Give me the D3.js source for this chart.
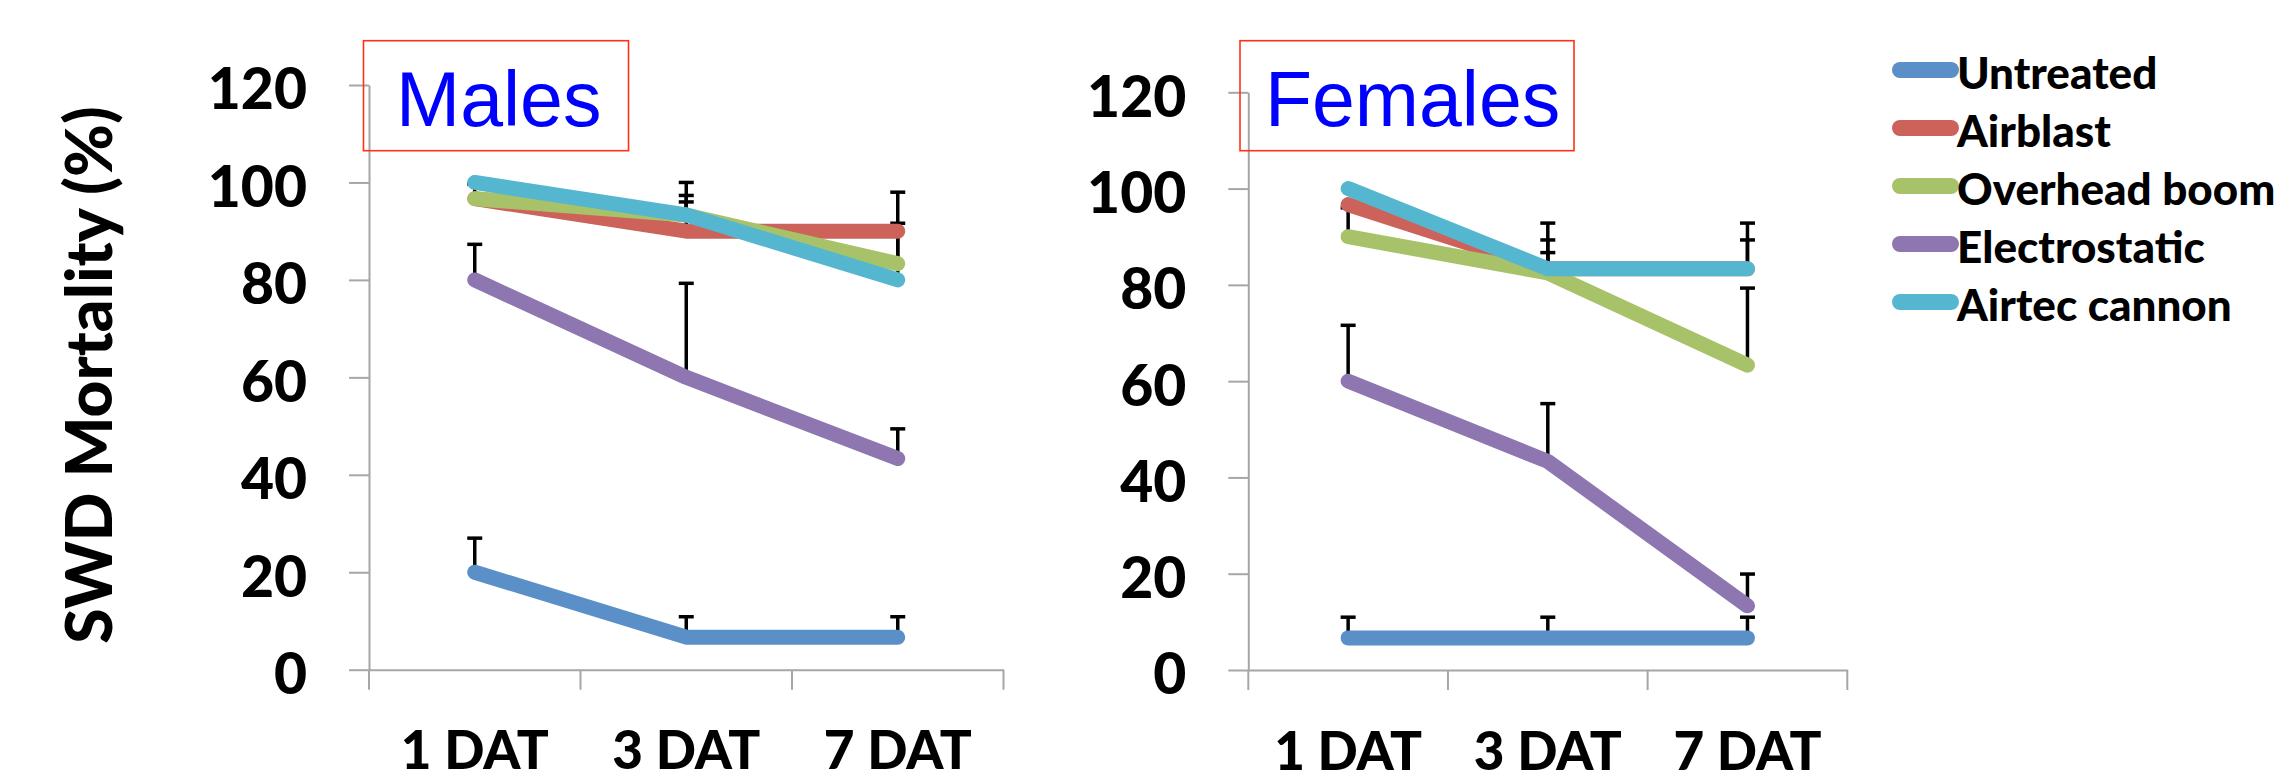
<!DOCTYPE html>
<html><head><meta charset="utf-8">
<script src="https://cdn.jsdelivr.net/npm/d3@7"></script>
<style>body{margin:0;background:#fff}svg{display:block}</style>
</head><body>
<script>
const categories = ["1 DAT", "3 DAT", "7 DAT"];
const seriesNames = ["Untreated", "Airblast", "Overhead boom", "Electrostatic", "Airtec cannon"];
const seriesColors = ["#5b8fc7", "#cc6259", "#a8c26a", "#8e76b0", "#55b7cf"];
const yTicks = [0, 20, 40, 60, 80, 100, 120];

const malesValues = [
  [20, 6.67, 6.67],
  [96.67, 90, 90],
  [96.67, 93.33, 83.33],
  [80, 60, 43.33],
  [100, 93.33, 80]
];
const malesErrors = [
  [7, 4.2, 4.2],
  [0, 6, 0],
  [3, 4, 8.3],
  [7.3, 19.3, 6.1],
  [0, 6.67, 18]
];
const femalesValues = [
  [6.67, 6.67, 6.67],
  [96.67, 83.33, 83.33],
  [90, 82.5, 63.33],
  [60, 43.33, 13.33],
  [100, 83.33, 83.33]
];
const femalesErrors = [
  [4.3, 4.3, 4.3],
  [0, 6, 6],
  [6, 4.2, 16],
  [11.6, 12, 6.6],
  [0, 9.5, 9.5]
];

const W = 2276, H = 778;
const svg = d3.select("body").append("svg").attr("width", W).attr("height", H);
const boldFont = "Lato, 'Open Sans', sans-serif";
const boldWeight = 900;

// Y axis title
svg.append("text")
  .attr("transform", "translate(112,375) rotate(-90)")
  .attr("text-anchor", "middle")
  .attr("font-family", boldFont).attr("font-weight", boldWeight)
  .attr("font-size", 64).attr("fill", "#000")
  .text("SWD Mortality (%)");

function panel(cfg) {
  const x = d3.scaleBand().domain(categories).range([cfg.x0, cfg.x1]);
  const y = d3.scaleLinear().domain([0, 120]).range([cfg.yb, cfg.yt]);
  const g = svg.append("g");

  // y axis
  const ya = g.append("g").attr("transform", `translate(${cfg.x0},0)`)
    .call(d3.axisLeft(y).tickValues(yTicks).tickSize(20).tickSizeOuter(0).tickPadding(42));
  ya.select(".domain").attr("stroke", "#a6a6a6").attr("stroke-width", 2);
  ya.selectAll(".tick line").attr("stroke", "#a6a6a6").attr("stroke-width", 2);
  ya.selectAll(".tick text")
    .attr("font-family", boldFont).attr("font-weight", boldWeight).attr("font-size", 57)
    .attr("fill", "#000").attr("dy", "0.42em");

  // x axis
  const xa = g.append("g").attr("transform", `translate(0,${cfg.yb})`)
    .call(d3.axisBottom(x).tickSize(0).tickSizeOuter(0).tickPadding(62));
  xa.select(".domain").attr("stroke", "#a6a6a6").attr("stroke-width", 2);
  xa.selectAll(".tick text")
    .attr("font-family", boldFont).attr("font-weight", boldWeight).attr("font-size", 53)
    .attr("fill", "#000").attr("dy", "0.71em");
  const bounds = categories.map(c => x(c)).concat([x(categories[categories.length - 1]) + x.bandwidth()]);
  g.append("g").selectAll("line").data(bounds).join("line")
    .attr("x1", d => d).attr("x2", d => d)
    .attr("y1", cfg.yb).attr("y2", cfg.yb + 20)
    .attr("stroke", "#a6a6a6").attr("stroke-width", 2);

  const cx = c => x(c) + x.bandwidth() / 2;

  // error bars (positive only)
  const errData = [];
  cfg.values.forEach((vals, si) => vals.forEach((v, ci) => {
    const e = cfg.errors[si][ci];
    if (e > 0) errData.push({ c: categories[ci], v, e });
  }));
  const eg = g.append("g").attr("stroke", "#000").attr("stroke-width", 3.5);
  eg.selectAll(".ev").data(errData).join("line")
    .attr("x1", d => cx(d.c)).attr("x2", d => cx(d.c))
    .attr("y1", d => y(d.v)).attr("y2", d => y(d.v + d.e));
  eg.selectAll(".ec").data(errData).join("line")
    .attr("x1", d => cx(d.c) - 7.5).attr("x2", d => cx(d.c) + 7.5)
    .attr("y1", d => y(d.v + d.e)).attr("y2", d => y(d.v + d.e));

  // series lines
  const line = d3.line().x((d, i) => cx(categories[i])).y(d => y(d));
  g.append("g").selectAll("path").data(cfg.values).join("path")
    .attr("d", d => line(d))
    .attr("fill", "none")
    .attr("stroke", (d, i) => seriesColors[i])
    .attr("stroke-width", 15)
    .attr("stroke-linecap", "round")
    .attr("stroke-linejoin", "round");

  // title box
  g.append("rect")
    .attr("x", cfg.box[0]).attr("y", cfg.box[1])
    .attr("width", cfg.box[2]).attr("height", cfg.box[3])
    .attr("fill", "none")
    .attr("stroke", "#ff3314").attr("stroke-width", 1.6);
  g.append("text")
    .attr("x", cfg.titleX).attr("y", 126)
    .attr("font-family", "'Liberation Sans', Arial, sans-serif")
    .attr("font-size", 77).attr("fill", "#0000ff")
    .text(cfg.title);
}

panel({ x0: 369, x1: 1003.5, yb: 669.7, yt: 85, values: malesValues, errors: malesErrors,
        box: [363.5, 40.7, 265, 110], title: "Males", titleX: 396 });
panel({ x0: 1248.3, x1: 1847.3, yb: 670, yt: 92.3, values: femalesValues, errors: femalesErrors,
        box: [1240, 40.7, 334, 110], title: "Females", titleX: 1265 });

// legend
const lg = svg.append("g");
const rowY = i => 70 + i * 58;
lg.selectAll("path").data(seriesNames).join("path")
  .attr("d", (d, i) => `M1900,${rowY(i)}H1951`)
  .attr("stroke", (d, i) => seriesColors[i])
  .attr("stroke-width", 16).attr("stroke-linecap", "round");
lg.selectAll("text").data(seriesNames).join("text")
  .attr("x", 1957).attr("y", (d, i) => rowY(i) + 19)
  .attr("font-family", boldFont).attr("font-weight", boldWeight).attr("font-size", 44)
  .attr("fill", "#000")
  .text(d => d);
</script>
</body></html>
